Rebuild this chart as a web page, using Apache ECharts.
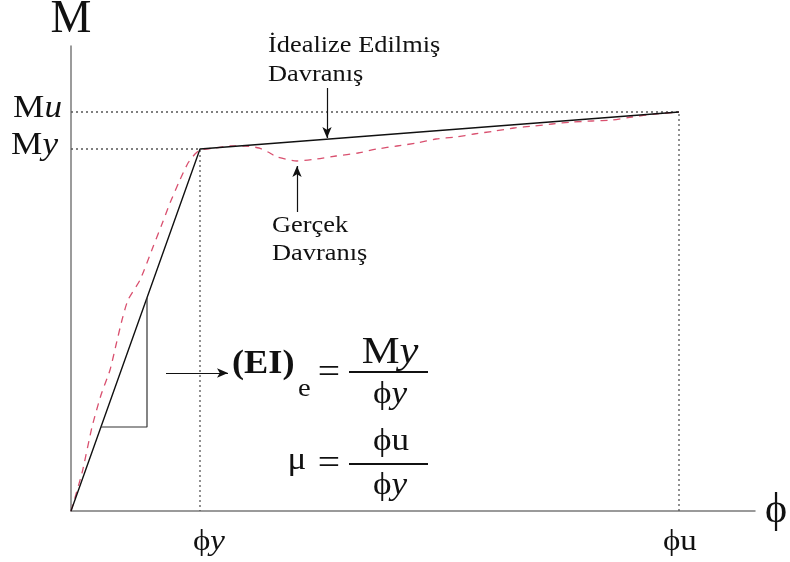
<!DOCTYPE html>
<html>
<head>
<meta charset="utf-8">
<script src="https://cdn.jsdelivr.net/npm/echarts@6/dist/echarts.min.js"></script>
<style>
  html, body { margin: 0; padding: 0; background: #fff; }
  #chart { width: 790px; height: 562px; }
</style>
</head>
<body>
<div id="chart"></div>
<script>
// Moment–curvature relation (M–ϕ), idealized bilinear vs. actual response
const SERIF = "'Liberation Serif', 'Times New Roman', 'DejaVu Serif', serif";
const INK = '#111';

// Key points (curvature ϕ, moment M) in drawing units
const phiY = 129, phiU = 608;
const momY = 362, momU = 399;
const axisMaxPhi = 684, axisMaxM = 465;

// Idealized (bilinear) behaviour
const idealPhi = [0, phiY, phiU];
const idealM   = [0, momY, momU];

// Actual (measured) behaviour
const realPhi = [0, 11, 21, 30, 39, 45, 51, 57, 69, 82, 91, 99, 108, 117, 124, 129,
                 144, 159, 174, 188, 197, 206, 226, 246, 265, 287, 306, 326, 346,
                 365, 385, 403, 424, 443, 463, 481, 501, 521, 541, 561, 584, 608];
const realM   = [0, 38, 84, 116, 141, 166, 191, 211, 231, 264, 287, 308, 329, 348, 357, 361,
                 363, 365, 365, 363, 359, 354, 350, 352, 355, 358, 362, 365, 368,
                 372, 374, 377, 380, 383, 385, 387, 389, 390, 391, 394, 397, 399];

// Stiffness triangle on the elastic branch
const triPhi = [30, 76, 76];
const triM   = [84, 84, 213];

// Axis marks: label text per key value
const phiTicks = [phiY, phiU];
const phiTickLabels = ['ϕ{i|y}', 'ϕu'];
const momTicks = [momU, momY];
const momTickLabels = ['M{i|u}', 'M{i|y}'];

const zip = (xs, ys) => xs.map((x, i) => [x, ys[i]]);

const chart = echarts.init(document.getElementById('chart'), null, { renderer: 'canvas' });

const arrowLine = (from, to) => ({
  type: 'line', data: [], silent: true,
  markLine: {
    silent: true, symbol: ['none', 'arrow'], symbolSize: [7, 11],
    label: { show: false },
    lineStyle: { color: INK, width: 1.2, type: 'solid' },
    emphasis: { disabled: true },
    data: [[{ coord: from }, { coord: to }]]
  }
});

// Serif text, slightly widened like the printed figure
const txt = (x, y, text, size, o = {}) => ({
  type: 'text', x, y, scaleX: o.sx || 1.1, silent: true,
  style: {
    text, fill: o.fill || INK,
    font: `${o.weight || ''} ${size}px ${SERIF}`,
    align: o.align || 'left', verticalAlign: 'middle',
    rich: { i: { font: `italic ${size}px ${SERIF}`, fill: o.fill || INK } }
  }
});

const option = {
  animation: false,
  backgroundColor: '#fff',
  grid: { left: 71, right: 35, top: 46, bottom: 51, outerBoundsMode: 'none', containLabel: false },
  xAxis: {
    type: 'value', min: 0, max: axisMaxPhi,
    name: 'ϕ', nameLocation: 'end', nameGap: 10,
    nameTextStyle: { fontFamily: SERIF, fontSize: 42, color: INK, verticalAlign: 'middle' },
    axisLine: { lineStyle: { color: '#7a7a7a', width: 1.5 } },
    axisTick: { show: false },
    splitLine: { show: false },
    axisLabel: { show: false }
  },
  yAxis: {
    type: 'value', min: 0, max: axisMaxM,
    name: 'M', nameLocation: 'end', nameGap: 26,
    nameTextStyle: { fontFamily: SERIF, fontSize: 46, color: INK, align: 'center', verticalAlign: 'middle' },
    axisLine: { lineStyle: { color: '#7a7a7a', width: 1.5 } },
    axisTick: { show: false },
    splitLine: { show: false },
    axisLabel: { show: false }
  },
  series: [
    { // dotted guides to M_y / ϕ_y
      type: 'line', data: [[0, momY], [phiY, momY], [phiY, 0]],
      symbol: 'none', silent: true,
      lineStyle: { color: '#555', width: 1.3, type: [2, 3] }
    },
    { // dotted guides to M_u / ϕ_u
      type: 'line', data: [[0, momU], [phiU, momU], [phiU, 0]],
      symbol: 'none', silent: true,
      lineStyle: { color: '#555', width: 1.3, type: [2, 3] }
    },
    { // actual behaviour
      type: 'line', data: zip(realPhi, realM), symbol: 'none', smooth: 0.2, silent: true,
      lineStyle: { color: '#d9506f', width: 1.3, type: [7, 6] }
    },
    { // idealized behaviour
      type: 'line', data: zip(idealPhi, idealM), symbol: 'none', silent: true,
      lineStyle: { color: INK, width: 1.4 }
    },
    { // stiffness triangle
      type: 'line', data: zip(triPhi, triM), symbol: 'none', silent: true,
      lineStyle: { color: '#333', width: 1.2 }
    },
    arrowLine([95, 138], [157, 138]),
    arrowLine([256, 423], [256, 373]),
    arrowLine([226, 299], [226, 345])
  ]
};

chart.setOption(option);

// Key-value labels placed at the axis positions of their values
const px = (x, y) => chart.convertToPixel({ gridIndex: 0 }, [x, y]);
const origin = px(0, 0);
const labels = [];
momTicks.forEach((v, i) => {
  const p = px(0, v);
  labels.push(txt(origin[0] - (i === 0 ? 9 : 13), p[1] - 3, momTickLabels[i], 32, { align: 'right' }));
});
phiTicks.forEach((v, i) => {
  const p = px(v, 0);
  labels.push(txt(p[0] - (i === 0 ? 7 : 16), origin[1] + 31, phiTickLabels[i], 30));
});

const notes = [
  txt(268, 46, 'İdealize Edilmiş', 24),
  txt(268, 75, 'Davranış', 24),
  txt(272, 226, 'Gerçek', 24),
  txt(272, 254, 'Davranış', 24),

  // (EI)e = My / ϕy
  txt(232, 364, '(EI)', 33, { weight: 'bold' }),
  txt(298, 389, 'e', 26),
  txt(329, 374, '=', 36, { align: 'center' }),
  txt(390, 353, 'M{i|y}', 37, { align: 'center', sx: 1.15 }),
  { type: 'line', silent: true, shape: { x1: 349, y1: 372, x2: 428, y2: 372 }, style: { stroke: INK, lineWidth: 2.2 } },
  txt(390, 395, 'ϕ{i|y}', 32, { align: 'center' }),

  // μ = ϕu / ϕy
  txt(297, 461, 'μ', 32, { align: 'center' }),
  txt(329, 465, '=', 36, { align: 'center' }),
  txt(391, 442, 'ϕu', 32, { align: 'center' }),
  { type: 'line', silent: true, shape: { x1: 349, y1: 464, x2: 428, y2: 464 }, style: { stroke: INK, lineWidth: 2.2 } },
  txt(390, 486, 'ϕ{i|y}', 32, { align: 'center' })
];

chart.setOption({ graphic: labels.concat(notes) });
</script>
</body>
</html>
